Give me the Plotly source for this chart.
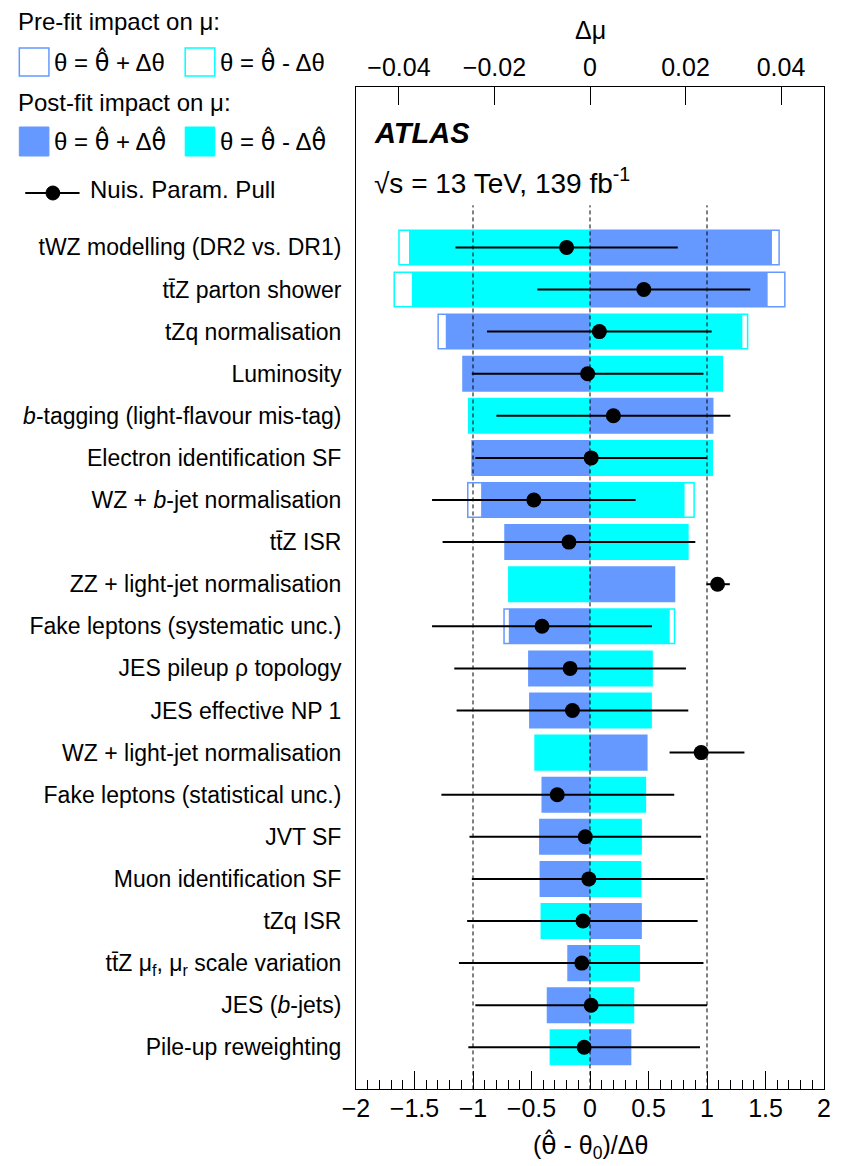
import plotly.graph_objects as go

# Nuisance parameters, ranked by impact (top row first)
labels = [
    "tWZ modelling (DR2 vs. DR1)",
    "tt\u0304Z parton shower",
    "tZq normalisation",
    "Luminosity",
    "<i>b</i>-tagging (light-flavour mis-tag)",
    "Electron identification SF",
    "WZ + <i>b</i>-jet normalisation",
    "tt\u0304Z ISR",
    "ZZ + light-jet normalisation",
    "Fake leptons (systematic unc.)",
    "JES pileup \u03c1 topology",
    "JES effective NP 1",
    "WZ + light-jet normalisation",
    "Fake leptons (statistical unc.)",
    "JVT SF",
    "Muon identification SF",
    "tZq ISR",
    "tt\u0304Z \u03bc<sub>f</sub>, \u03bc<sub>r</sub> scale variation",
    "JES (<i>b</i>-jets)",
    "Pile-up reweighting",
]

# Post-fit impact on mu for theta = theta_hat +/- delta_theta_hat
post_up = [0.0381, 0.0372, -0.0302, -0.0266, 0.0257, -0.0247, -0.0228, -0.0178, 0.0177, -0.0170,
           -0.0128, -0.0126, 0.0119, -0.0100, -0.0105, -0.0104, 0.0107, -0.0046, -0.0089, 0.0085]
post_down = [-0.0379, -0.0373, 0.0319, 0.0277, -0.0254, 0.0256, 0.0198, 0.0205, -0.0170, 0.0167,
             0.0130, 0.0128, -0.0115, 0.0116, 0.0107, 0.0106, -0.0102, 0.0103, 0.0091, -0.0083]

# Pre-fit impact on mu for theta = theta_hat +/- delta_theta
pre_up = [0.0396, 0.0408, -0.0318, -0.0266, 0.0257, -0.0247, -0.0256, -0.0178, 0.0177, -0.0180,
          -0.0128, -0.0126, 0.0119, -0.0100, -0.0105, -0.0104, 0.0107, -0.0046, -0.0089, 0.0085]
pre_down = [-0.0400, -0.0410, 0.0330, 0.0277, -0.0254, 0.0256, 0.0218, 0.0205, -0.0170, 0.0177,
            0.0130, 0.0128, -0.0115, 0.0116, 0.0107, 0.0106, -0.0102, 0.0103, 0.0091, -0.0083]

# Nuisance parameter pulls and their post-fit uncertainties
pull = [-0.20, 0.46, 0.08, -0.02, 0.20, 0.01, -0.48, -0.18, 1.09, -0.41,
        -0.17, -0.15, 0.95, -0.28, -0.04, -0.01, -0.06, -0.07, 0.01, -0.05]
pull_err_lo = [0.95, 0.91, 0.96, 0.99, 1.00, 0.99, 0.87, 1.08, 0.095, 0.94,
               0.99, 0.99, 0.27, 0.99, 0.99, 1.00, 0.99, 1.05, 0.99, 0.99]
pull_err_hi = [0.95, 0.91, 0.96, 0.99, 1.00, 0.99, 0.87, 1.08, 0.105, 0.94,
               0.99, 0.99, 0.37, 1.00, 0.99, 0.99, 0.98, 1.04, 0.99, 0.99]

n = len(labels)
ypos = [n - 1 - i for i in range(n)]

BLUE = "#6699FF"
CYAN = "#00FFFF"
FONT = "Liberation Sans, Arial, Helvetica, sans-serif"
BAR_W = 0.82

# theta with a hat, set in a font that positions combining marks properly
THETA = "\u03b8"
THETA_HAT = "<span style='font-family:DejaVu Sans'>\u03b8\u0302</span>"

# page geometry (pixels)
W, H = 843, 1166
L, R, T, B = 356, 13, 87, 77
PW, PH = W - L - R, H - T - B


def px_x(px):
    return (px - L) / PW


def px_y(py):
    return (T + PH - py) / PH


fig = go.Figure()

# pre-fit impacts: hollow boxes
for vals, col in ((pre_up, BLUE), (pre_down, CYAN)):
    fig.add_trace(go.Bar(
        y=ypos, x=vals, base=0, orientation="h", width=BAR_W,
        marker=dict(color="rgba(255,255,255,0)", line=dict(color=col, width=1.5)),
        xaxis="x", yaxis="y", hoverinfo="skip",
    ))

# post-fit impacts: filled boxes
for vals, col in ((post_up, BLUE), (post_down, CYAN)):
    fig.add_trace(go.Bar(
        y=ypos, x=vals, base=0, orientation="h", width=BAR_W,
        marker=dict(color=col, line=dict(width=0)),
        xaxis="x", yaxis="y",
    ))

# reference lines at pull = -1, 0, +1
for ref in (-1, 0, 1):
    fig.add_trace(go.Scatter(
        x=[ref, ref], y=[-1, n], mode="lines",
        line=dict(color="black", width=1, dash="4px,3px"),
        xaxis="x2", yaxis="y", hoverinfo="skip",
    ))

# pulls
fig.add_trace(go.Scatter(
    x=pull, y=ypos, mode="markers",
    marker=dict(color="black", size=15),
    error_x=dict(type="data", symmetric=False, array=pull_err_hi, arrayminus=pull_err_lo,
                 color="black", thickness=2, width=0),
    xaxis="x2", yaxis="y",
))

fig.update_layout(
    width=W, height=H,
    margin=dict(l=L, r=R, t=T, b=B, pad=0),
    paper_bgcolor="white", plot_bgcolor="white",
    barmode="overlay", showlegend=False,
    font=dict(family=FONT, color="black"),
    xaxis=dict(
        range=[-0.049, 0.049], side="top", anchor="y",
        tick0=0, dtick=0.02, ticks="inside", ticklen=18, tickwidth=1, tickcolor="black",
        showline=True, linecolor="black", linewidth=1, mirror=True,
        showgrid=False, zeroline=False,
        tickfont=dict(size=25), ticklabelstandoff=0,
    ),
    xaxis2=dict(
        range=[-2, 2], side="bottom", anchor="y", overlaying="x",
        tick0=0, dtick=0.5, ticks="inside", ticklen=18, tickwidth=1, tickcolor="black",
        minor=dict(dtick=0.1, ticks="inside", ticklen=9, tickwidth=1, tickcolor="black", showgrid=False),
        showline=True, linecolor="black", linewidth=1,
        showgrid=False, zeroline=False,
        tickfont=dict(size=25), ticklabelstandoff=-3,
    ),
    yaxis=dict(
        range=[-0.99, n + 2.81],
        tickvals=ypos, ticktext=labels, ticks="",
        showline=True, linecolor="black", linewidth=1, mirror=True,
        showgrid=False, zeroline=False,
        tickfont=dict(size=23), ticklabelstandoff=9,
    ),
)

annotations = []
shapes = []


def text(x, y, s, size=24, anchor="left"):
    annotations.append(dict(
        x=px_x(x), y=px_y(y), xref="paper", yref="paper", text=s,
        showarrow=False, xanchor=anchor, yanchor="middle",
        font=dict(size=size, family=FONT, color="black"),
    ))


def box(x0, y0, x1, y1, col, filled):
    shapes.append(dict(
        type="rect", xref="paper", yref="paper",
        x0=px_x(x0), x1=px_x(x1), y0=px_y(y1), y1=px_y(y0),
        line=dict(color=col, width=1.5 if not filled else 1),
        fillcolor=col if filled else "white", layer="above",
    ))


# axis titles
text(593, 30, "\u0394\u03bc", size=25, anchor="center")
text(593, 1146, "(" + THETA_HAT + " - " + THETA + "<sub>0</sub>)/\u0394" + THETA, size=25, anchor="center")

# labels inside the frame
text(372, 133, "<b><i>ATLAS</i></b>", size=29)
text(372, 181, "\u221as = 13 TeV, 139 fb<sup>-1</sup>", size=28)

# legend
text(12, 22, "Pre-fit impact on \u03bc:")
box(15, 48, 45, 76, BLUE, False)
text(48, 62, THETA + " = " + THETA_HAT + " + \u0394" + THETA)
box(183, 48, 213, 76, CYAN, False)
text(216, 62, THETA + " = " + THETA_HAT + " - \u0394" + THETA)

text(12, 103, "Post-fit impact on \u03bc:")
box(15, 127, 45, 156, BLUE, True)
text(48, 141, THETA + " = " + THETA_HAT + " + \u0394" + THETA_HAT)
box(183, 127, 213, 156, CYAN, True)
text(216, 141, THETA + " = " + THETA_HAT + " - \u0394" + THETA_HAT)

shapes.append(dict(type="line", xref="paper", yref="paper",
                   x0=px_x(21), x1=px_x(76), y0=px_y(193), y1=px_y(193),
                   line=dict(color="black", width=2)))
shapes.append(dict(type="circle", xref="paper", yref="paper",
                   x0=px_x(42), x1=px_x(56), y0=px_y(200), y1=px_y(186),
                   line=dict(color="black", width=1), fillcolor="black"))
text(85, 189, "Nuis. Param. Pull")

fig.update_layout(annotations=annotations, shapes=shapes)

fig.write_html("out.html")
